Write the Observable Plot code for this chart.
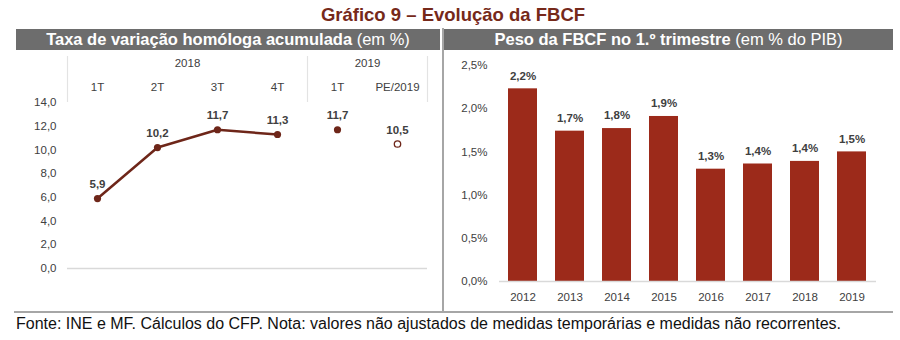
<!DOCTYPE html>
<html>
<head>
<meta charset="utf-8">
<script src="https://cdn.jsdelivr.net/npm/d3@7"></script>
<script src="https://cdn.jsdelivr.net/npm/@observablehq/plot@0.6"></script>
<style>
  html, body { margin: 0; padding: 0; background: #fff; }
  #wrap { position: relative; width: 900px; height: 340px; overflow: hidden; font-family: "Liberation Sans", Arial, sans-serif; }
  #title { position: absolute; left: 0; width: 906px; top: 4px; text-align: center; font-weight: bold; font-size: 18.5px; color: #76291a; }
  .hdr { position: absolute; top: 29px; height: 21px; background: #6d6d6d; color: #fff; font-size: 16.5px; line-height: 21px; text-align: center; white-space: nowrap; }
  .hdr b { font-weight: bold; }
  #hl { left: 16px; width: 424px; }
  #hr { left: 444px; width: 449px; }
  #vdiv { position: absolute; left: 442px; top: 28px; width: 1.5px; height: 283px; background: #a6a6a6; }
  #hdiv { position: absolute; left: 14px; top: 311px; width: 879px; height: 1.5px; background: #a6a6a6; }
  #foot { position: absolute; left: 16px; top: 315px; font-size: 16px; color: #111; white-space: nowrap; }
  #left { position: absolute; left: 0; top: 50px; }
  #right { position: absolute; left: 440px; top: 50px; }
</style>
</head>
<body>
<div id="wrap">
  <div id="title">Gráfico 9 – Evolução da FBCF</div>
  <div class="hdr" id="hl"><b>Taxa de variação homóloga acumulada</b> (em %)</div>
  <div class="hdr" id="hr"><b>Peso da FBCF no 1.º trimestre</b> (em % do PIB)</div>
  <div id="left"></div>
  <div id="right"></div>
  <div id="vdiv"></div>
  <div id="hdiv"></div>
  <div id="foot">Fonte: INE e MF. Cálculos do CFP. Nota: valores não ajustados de medidas temporárias e medidas não recorrentes.</div>
</div>
<script>
// ---- Left panel data ----
const quarterLabels = ["1T", "2T", "3T", "4T", "1T", "PE/2019"];
const quarterGroup = ["2018", "2018", "2018", "2018", "2019", "PE"];
const growthValues = [5.9, 10.2, 11.7, 11.3, 11.7, 10.5];
const yearGroups = ["2018", "2019"];
const yearGroupCenters = [1.5, 4.5];
const yearGroupEdges = [-0.5, 3.5, 5.5];
const leftTicks = [0, 2, 4, 6, 8, 10, 12, 14];

// ---- Right panel data ----
const years = ["2012", "2013", "2014", "2015", "2016", "2017", "2018", "2019"];
const shareValues = [2.23, 1.74, 1.77, 1.91, 1.30, 1.36, 1.39, 1.50];
const rightTicks = [0, 0.5, 1.0, 1.5, 2.0, 2.5];

const lineColor = "#6e2619";
const barColor = "#9c2a1a";
const textColor = "#404040";
const fontFam = "'Liberation Sans', Arial, sans-serif";

const comma1 = v => d3.format(".1f")(v).replace(".", ",");

const leftData = growthValues.map((v, i) => ({i, v, q: quarterLabels[i], g: quarterGroup[i]}));
const yearData = yearGroups.map((y, k) => ({y, c: yearGroupCenters[k]}));

const left = Plot.plot({
  width: 440,
  height: 260,
  marginLeft: 67,
  marginRight: 13,
  marginTop: 52,
  marginBottom: 42,
  style: {fontFamily: fontFam, fontSize: "11.5px", color: textColor, background: "transparent"},
  x: {type: "linear", domain: [-0.5, 5.5], axis: null},
  y: {domain: [0, 14], axis: null},
  marks: [
    Plot.ruleY([0], {stroke: "#d9d9d9", strokeWidth: 1.5}),
    Plot.axisY(leftTicks, {tickSize: 0, tickPadding: 11, tickFormat: comma1, fontSize: 11.5, fill: textColor, label: null}),
    Plot.ruleX(yearGroupEdges, {y1: 14, y2: 14, stroke: "#e3e3e3", strokeWidth: 1.2, insetTop: -46}),
    Plot.text(yearData, {x: "c", y: 14, text: "y", dy: -39, fill: textColor, fontSize: 11.5}),
    Plot.text(leftData, {x: "i", y: 14, text: "q", dy: -15, fill: textColor, fontSize: 11.5}),
    Plot.line(leftData.filter(d => d.g === "2018"), {x: "i", y: "v", stroke: lineColor, strokeWidth: 2.5}),
    Plot.dot(leftData.filter(d => d.g !== "PE"), {x: "i", y: "v", r: 3.6, fill: lineColor, stroke: "none"}),
    Plot.dot(leftData.filter(d => d.g === "PE"), {x: "i", y: "v", r: 3.2, fill: "white", stroke: lineColor, strokeWidth: 1.3}),
    Plot.text(leftData, {x: "i", y: "v", text: d => comma1(d.v), dy: -14, fill: textColor, fontWeight: "bold", fontSize: 11.5})
  ]
});
document.getElementById("left").append(left);

const rightData = years.map((y, i) => ({y, v: shareValues[i]}));

const right = Plot.plot({
  width: 460,
  height: 260,
  marginLeft: 59,
  marginRight: 24,
  marginTop: 15,
  marginBottom: 29,
  style: {fontFamily: fontFam, fontSize: "11.5px", color: textColor, background: "transparent"},
  x: {type: "band", domain: years, paddingInner: 0.38, paddingOuter: 0.19, axis: null},
  y: {domain: [0, 2.5], axis: null},
  marks: [
    Plot.axisY(rightTicks, {tickSize: 0, tickPadding: 12, tickFormat: v => comma1(v) + "%", fontSize: 11.5, fill: textColor, label: null}),
    Plot.barY(rightData, {x: "y", y: "v", fill: barColor}),
    Plot.ruleY([0], {stroke: "#d9d9d9", strokeWidth: 1.5}),
    Plot.axisX(years, {tickSize: 0, tickPadding: 11, fontSize: 11.5, fill: textColor, label: null}),
    Plot.text(rightData, {x: "y", y: "v", text: d => comma1(d.v) + "%", dy: -13, fill: textColor, fontWeight: "bold", fontSize: 11.5})
  ]
});
document.getElementById("right").append(right);
</script>
</body>
</html>
